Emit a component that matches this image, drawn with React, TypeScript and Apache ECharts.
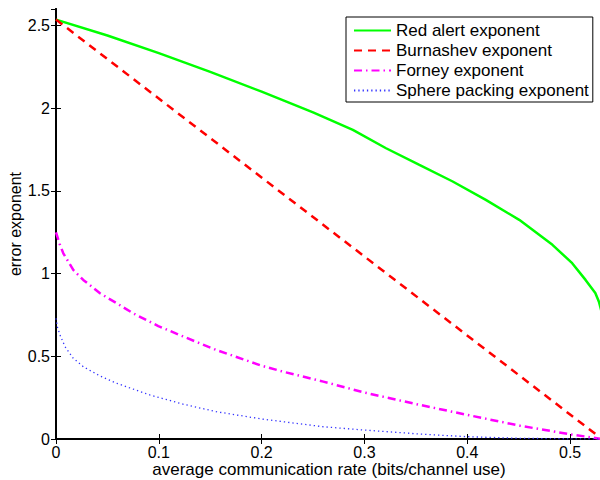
import React, { useEffect, useRef } from "react";
import * as echarts from "echarts";

const seriesNames = [
  "Red alert exponent",
  "Burnashev exponent",
  "Forney exponent",
  "Sphere packing exponent",
];

const redAlertX = [0, 0.05, 0.1, 0.15, 0.2, 0.25, 0.2887, 0.321, 0.3534, 0.3858, 0.418, 0.4505, 0.4828, 0.502, 0.515, 0.5245, 0.528, 0.531];
const redAlertY = [2.536, 2.44, 2.333, 2.22, 2.1, 1.975, 1.869, 1.758, 1.657, 1.557, 1.446, 1.325, 1.174, 1.063, 0.962, 0.883, 0.83, 0.76];

const burnashevX = [0, 0.531];
const burnashevY = [2.536, 0];

const forneyX = [0, 0.0035, 0.0071, 0.0168, 0.0265, 0.0428, 0.059, 0.075, 0.0995, 0.124, 0.156, 0.2, 0.221, 0.26, 0.3005, 0.354, 0.4005, 0.4514, 0.5007, 0.531];
const forneyY = [1.25, 1.18, 1.123, 1.022, 0.962, 0.881, 0.821, 0.76, 0.683, 0.619, 0.538, 0.443, 0.407, 0.347, 0.28, 0.206, 0.145, 0.08, 0.028, 0];

const spherePackingX = [0, 0.0015, 0.0039, 0.0088, 0.0168, 0.0266, 0.0428, 0.059, 0.0914, 0.124, 0.156, 0.2, 0.26, 0.3, 0.354, 0.4, 0.451, 0.5, 0.531];
const spherePackingY = [0.73, 0.675, 0.629, 0.558, 0.488, 0.437, 0.381, 0.337, 0.266, 0.21, 0.165, 0.121, 0.074, 0.054, 0.03, 0.014, 0.004, 0.001, 0];

const xMin = 0;
const xMax = 0.531;
const xInterval = 0.1;
const yMin = 0;
const yMax = 2.6;
const yInterval = 0.5;

const xTitle = "average communication rate (bits/channel use)";
const yTitle = "error exponent";

const zip = (xs: number[], ys: number[]) => xs.map((x, i) => [x, ys[i]]);

const FONT = "'Liberation Sans', Arial, Helvetica, sans-serif";

export default function App() {
  const ref = useRef<HTMLDivElement>(null);

  useEffect(() => {
    if (!ref.current) return;
    const chart = echarts.init(ref.current, undefined, { renderer: "svg" });

    const axisLine = { show: true, lineStyle: { color: "#000", width: 2 } };
    const axisTick = { show: true, inside: true, length: 5, lineStyle: { color: "#000", width: 1 } };
    const labelStyle = { color: "#000", fontSize: 16, fontFamily: FONT };

    chart.setOption({
      animation: false,
      backgroundColor: "#fff",
      textStyle: { fontFamily: FONT },
      grid: { left: 56, right: -2, top: 9, bottom: 41, containLabel: false, outerBoundsMode: "none" },
      legend: {
        orient: "vertical",
        left: 346,
        top: 17,
        data: seriesNames,
        backgroundColor: "#fff",
        borderColor: "#000",
        borderWidth: 1,
        borderRadius: 0,
        padding: [5, 4, 3, 7],
        itemWidth: 37,
        itemHeight: 14,
        itemGap: 3,
        itemStyle: { opacity: 0 },
        textStyle: { color: "#000", fontSize: 17, fontFamily: FONT, lineHeight: 17 },
      },
      xAxis: [
        {
          type: "value",
          min: xMin,
          max: xMax,
          interval: xInterval,
          position: "bottom",
          name: xTitle,
          nameLocation: "middle",
          nameGap: 22,
          nameMoveOverlap: false,
          nameTextStyle: { color: "#000", fontSize: 17, fontFamily: FONT, lineHeight: 17 },
          axisLine,
          axisTick,
          axisLabel: { ...labelStyle, margin: 5, lineHeight: 16, showMaxLabel: false },
          splitLine: { show: false },
        },
        {
          type: "value",
          min: xMin,
          max: xMax,
          interval: xInterval,
          position: "top",
          axisLine,
          axisTick,
          axisLabel: { show: false },
          splitLine: { show: false },
        },
      ],
      yAxis: [
        {
          type: "value",
          min: yMin,
          max: yMax,
          interval: yInterval,
          position: "left",
          name: yTitle,
          nameLocation: "middle",
          nameGap: 33,
          nameMoveOverlap: false,
          nameRotate: 90,
          nameTextStyle: { color: "#000", fontSize: 16, fontFamily: FONT },
          axisLine,
          axisTick,
          axisLabel: { ...labelStyle, margin: 6, showMaxLabel: false },
          splitLine: { show: false },
        },
        {
          type: "value",
          min: yMin,
          max: yMax,
          interval: yInterval,
          position: "right",
          axisLine,
          axisTick,
          axisLabel: { show: false },
          splitLine: { show: false },
        },
      ],
      series: [
        {
          name: seriesNames[0],
          type: "line",
          data: zip(redAlertX, redAlertY),
          symbol: "none",
          lineStyle: { color: "#00ff00", width: 2.5, type: "solid" },
          itemStyle: { color: "#00ff00" },
        },
        {
          name: seriesNames[1],
          type: "line",
          data: zip(burnashevX, burnashevY),
          symbol: "none",
          lineStyle: { color: "#ff0000", width: 2.5, type: [8, 6] },
          itemStyle: { color: "#ff0000" },
        },
        {
          name: seriesNames[2],
          type: "line",
          data: zip(forneyX, forneyY),
          symbol: "none",
          lineStyle: { color: "#ff00ff", width: 2.5, type: [8, 4, 1.5, 4] },
          itemStyle: { color: "#ff00ff" },
        },
        {
          name: seriesNames[3],
          type: "line",
          data: zip(spherePackingX, spherePackingY),
          symbol: "none",
          lineStyle: { color: "#3333ff", width: 1.3, type: [1.3, 3] },
          itemStyle: { color: "#3333ff" },
        },
      ],
    });

    return () => chart.dispose();
  }, []);

  return (
    <div
      ref={ref}
      style={{ position: "fixed", left: 0, top: 0, width: 600, height: 480 }}
    />
  );
}
